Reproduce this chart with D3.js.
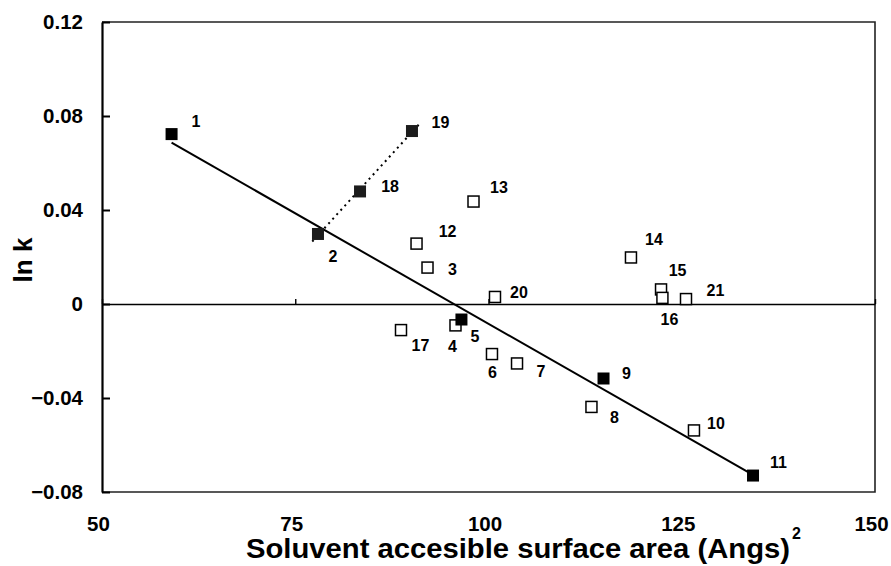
<!DOCTYPE html>
<html>
<head>
<meta charset="utf-8">
<script src="https://cdn.jsdelivr.net/npm/d3@7"></script>
<style>
  html, body { margin: 0; padding: 0; background: #fff; }
  svg { display: block; font-family: "Liberation Sans", Arial, sans-serif; }
</style>
</head>
<body>
<svg id="chart" width="891" height="566"></svg>
<script>
// Compound numbers and their measured values
const ids      = [1, 2, 3, 4, 5, 6, 7, 8, 9, 10, 11, 12, 13, 14, 15, 16, 17, 18, 19, 20, 21];
const area     = [59.0, 77.94, 92.11, 95.73, 96.50, 100.45, 103.69, 113.32, 114.88, 126.58, 134.22,
                  90.69, 98.06, 118.43, 122.32, 122.5, 88.68, 83.38, 90.10, 100.84, 125.55];
const lnk      = [0.0723, 0.0298, 0.0155, -0.0091, -0.0066, -0.0213, -0.0253, -0.0438, -0.0317, -0.0538, -0.0730,
                  0.0257, 0.0436, 0.0198, 0.0062, 0.0026, -0.0111, 0.0479, 0.0736, 0.0030, 0.0021];

// Groups: solid black markers, dark stippled markers, and the two fitted series
const blackIds   = [1, 5, 9, 11];
const stippleIds = [2, 18, 19];
const mainFitIds = [1, 2, 5, 9, 11];
const sideFitIds = [2, 18, 19];
const sideFitExtent = [77.2, 91.1];

// Axis ticks
const xTicks = [50, 75, 100, 125, 150];
const yTicks = [-0.08, -0.04, 0, 0.04, 0.08, 0.12];
const yTickLabels = ["\u22120.08", "\u22120.04", "0", "0.04", "0.08", "0.12"];

// Label placement around each marker (pixels), in the order of ids
const labelOffsets = [[24.5,-13],[15,22.5],[25,2],[-3,20.5],[13.5,16.5],[0.5,18],[24,8],[23,10],[23,-5.5],[22,-7.5],[25.5,-13],
                      [31,-12],[25.5,-14.5],[23,-18],[16.5,-19.5],[7,21],[19.5,15],[30,-5.5],[28.5,-8.5],[24,-5],[29.5,-8.5]];

const points = ids.map((id, i) => ({ id, x: area[i], y: lnk[i], off: labelOffsets[i] }));
const byId = new Map(points.map(p => [p.id, p]));

const svg = d3.select("#chart");
const plotLeft = 102, plotRight = 875, plotTop = 22, plotBottom = 492;
const x = d3.scaleLinear().domain([50, 150]).range([plotLeft, plotRight]);
const y = d3.scaleLinear().domain([-0.08, 0.12]).range([plotBottom, plotTop]);

// Plot frame
svg.append("path")
  .attr("d", `M${plotLeft},${plotTop}H${plotRight}V${plotBottom}H${plotLeft}`)
  .attr("fill", "none").attr("stroke", "#222").attr("stroke-width", 1.6);

// Y axis with inward ticks
const yAxis = d3.axisLeft(y).tickValues(yTicks)
  .tickFormat((d, i) => yTickLabels[i])
  .tickSizeInner(-8).tickSizeOuter(0).tickPadding(19);
const gy = svg.append("g").attr("transform", `translate(${plotLeft},0)`).call(yAxis);
gy.select(".domain").attr("stroke", "#000").attr("stroke-width", 2.2);
gy.selectAll(".tick line").attr("stroke", "#000").attr("stroke-width", 2);
gy.selectAll("text").attr("font-size", 20.5).attr("font-weight", "bold").attr("fill", "#000");

// X axis drawn along ln k = 0, ticks pointing up
const xAxisLine = d3.axisTop(x).tickValues(xTicks).tickFormat("").tickSizeInner(5).tickSizeOuter(0);
const gx = svg.append("g").attr("transform", `translate(0,${y(0)})`).call(xAxisLine);
gx.select(".domain").attr("stroke", "#000").attr("stroke-width", 1.6);
gx.selectAll(".tick line").attr("stroke", "#000").attr("stroke-width", 1.4);

// X tick labels below the frame
const xAxisLabels = d3.axisBottom(x).tickValues(xTicks).tickSize(0).tickPadding(24);
const gxl = svg.append("g").attr("transform", `translate(0,${plotBottom})`).call(xAxisLabels);
gxl.select(".domain").remove();
gxl.selectAll("text").attr("font-size", 20.5).attr("font-weight", "bold").attr("fill", "#000").attr("dx", -4);

// Least-squares fit through a set of points
function fit(list) {
  const mx = d3.mean(list, p => p.x), my = d3.mean(list, p => p.y);
  const sxy = d3.sum(list, p => (p.x - mx) * (p.y - my));
  const sxx = d3.sum(list, p => (p.x - mx) ** 2);
  const b = sxy / sxx;
  return xv => my + b * (xv - mx);
}

const mainPts = mainFitIds.map(id => byId.get(id));
const mainFit = fit(mainPts);
const mainExt = d3.extent(mainPts, p => p.x);
const line = d3.line().x(d => x(d[0])).y(d => y(d[1]));
svg.append("path")
  .attr("d", line(mainExt.map(v => [v, mainFit(v)])))
  .attr("fill", "none").attr("stroke", "#000").attr("stroke-width", 2);

const sidePts = sideFitIds.map(id => byId.get(id));
const sideFit = fit(sidePts);
svg.append("path")
  .attr("d", line(sideFitExtent.map(v => [v, sideFit(v)])))
  .attr("fill", "none").attr("stroke", "#000").attr("stroke-width", 2)
  .attr("stroke-dasharray", "2,4");

// Markers
const open = points.filter(p => !blackIds.includes(p.id) && !stippleIds.includes(p.id));
svg.append("g").selectAll("rect").data(open).join("rect")
  .attr("x", d => x(d.x) - 5.5).attr("y", d => y(d.y) - 5.5)
  .attr("width", 11).attr("height", 11)
  .attr("fill", "#fff").attr("stroke", "#000").attr("stroke-width", 1.5);

svg.append("g").selectAll("rect").data(points.filter(p => stippleIds.includes(p.id))).join("rect")
  .attr("x", d => x(d.x) - 6).attr("y", d => y(d.y) - 6)
  .attr("width", 12).attr("height", 12).attr("fill", "#1c1c1c");

svg.append("g").selectAll("rect").data(points.filter(p => blackIds.includes(p.id))).join("rect")
  .attr("x", d => x(d.x) - 6).attr("y", d => y(d.y) - 6)
  .attr("width", 12).attr("height", 12).attr("fill", "#000");

// Compound numbers
svg.append("g").selectAll("text").data(points).join("text")
  .attr("x", d => x(d.x) + d.off[0]).attr("y", d => y(d.y) + d.off[1])
  .attr("text-anchor", "middle").attr("dy", "0.36em")
  .attr("font-size", 16).attr("font-weight", "bold").attr("fill", "#000")
  .text(d => d.id);

// Axis titles
svg.append("text")
  .attr("x", 246).attr("y", 558)
  .attr("font-size", 28).attr("font-weight", "bold").attr("fill", "#000")
  .attr("textLength", 544).attr("lengthAdjust", "spacingAndGlyphs")
  .text("Soluvent accesible surface area (Angs)");
svg.append("text")
  .attr("x", 246 + 544 + 2).attr("y", 539)
  .attr("font-size", 16).attr("font-weight", "bold").attr("fill", "#000")
  .text("2");

svg.append("text")
  .attr("transform", "translate(32,260) rotate(-90)")
  .attr("text-anchor", "middle")
  .attr("font-size", 26).attr("font-weight", "bold").attr("fill", "#000")
  .text("ln k");
</script>
</body>
</html>
